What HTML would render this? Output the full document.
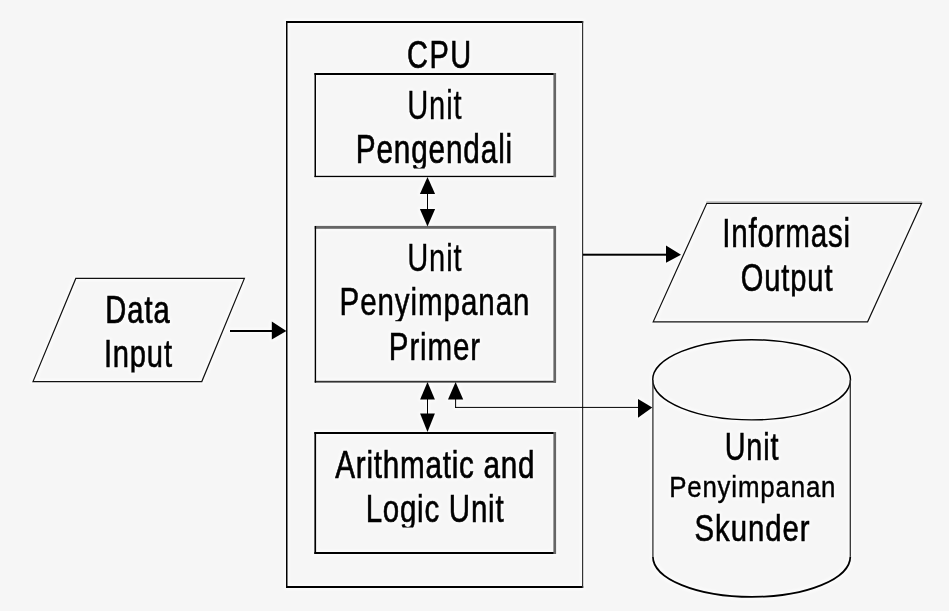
<!DOCTYPE html>
<html><head><meta charset="utf-8"><title>CPU diagram</title>
<style>
html,body{margin:0;padding:0;background:#f6f6f6;}
body{width:949px;height:611px;overflow:hidden;}
svg{display:block;}
text{font-family:"Liberation Sans",sans-serif;fill:#000;stroke:#000;vector-effect:non-scaling-stroke;}
</style></head><body>
<svg width="949" height="611" viewBox="0 0 949 611">
<defs><clipPath id="c0"><rect x="0" y="22.5" width="949" height="50.9"/></clipPath><clipPath id="c1"><rect x="0" y="74.0" width="949" height="50.9"/></clipPath><clipPath id="c2"><rect x="0" y="117.6" width="949" height="50.9"/></clipPath><clipPath id="c3"><rect x="0" y="226.4" width="949" height="50.9"/></clipPath><clipPath id="c4"><rect x="0" y="270.4" width="949" height="50.9"/></clipPath><clipPath id="c5"><rect x="0" y="315.0" width="949" height="50.9"/></clipPath><clipPath id="c6"><rect x="0" y="432.9" width="949" height="50.9"/></clipPath><clipPath id="c7"><rect x="0" y="476.5" width="949" height="50.9"/></clipPath><clipPath id="c8"><rect x="0" y="277.8" width="949" height="50.9"/></clipPath><clipPath id="c9"><rect x="0" y="321.7" width="949" height="50.9"/></clipPath><clipPath id="c10"><rect x="0" y="202.2" width="949" height="50.9"/></clipPath><clipPath id="c11"><rect x="0" y="245.6" width="949" height="50.9"/></clipPath><clipPath id="c12"><rect x="0" y="415.2" width="949" height="50.9"/></clipPath><clipPath id="c13"><rect x="0" y="495.6" width="949" height="50.9"/></clipPath><filter id="b" x="-2%" y="-2%" width="104%" height="104%" color-interpolation-filters="sRGB"><feMorphology in="SourceAlpha" operator="dilate" radius="1.6" result="d"/><feGaussianBlur in="d" stdDeviation="1.4" result="g"/><feFlood flood-color="#fff" flood-opacity="0.6"/><feComposite in2="g" operator="in" result="halo"/><feGaussianBlur in="SourceGraphic" stdDeviation="0.4" result="s"/><feMerge><feMergeNode in="halo"/><feMergeNode in="s"/></feMerge></filter></defs>
<rect width="949" height="611" fill="#f6f6f6"/>
<g filter="url(#b)">

<rect x="286" y="21" width="297.20" height="2.00" fill="#000"/>
<rect x="286" y="586" width="297.20" height="2.00" fill="#000"/>
<rect x="286" y="21" width="1.50" height="567.00" fill="#000"/>
<rect x="582" y="21" width="1.20" height="567.00" fill="#333"/>
<rect x="314.5" y="73" width="241.50" height="2.00" fill="#000"/>
<rect x="314.5" y="175.8" width="241.50" height="1.30" fill="#000"/>
<rect x="314.5" y="73" width="1.50" height="104.10" fill="#000"/>
<rect x="553.4" y="73" width="2.70" height="104.10" fill="#666"/>
<rect x="314.7" y="225.9" width="241.30" height="2.90" fill="#666"/>
<rect x="314.7" y="380.8" width="241.30" height="1.80" fill="#333"/>
<rect x="314.7" y="226" width="1.40" height="156.60" fill="#000"/>
<rect x="553.4" y="226" width="2.70" height="156.60" fill="#666"/>
<rect x="314.4" y="432" width="241.60" height="2.00" fill="#000"/>
<rect x="314.4" y="552" width="241.60" height="2.00" fill="#000"/>
<rect x="314.4" y="432" width="1.70" height="122.00" fill="#000"/>
<rect x="553.4" y="432" width="2.70" height="122.00" fill="#666"/>
<rect x="230" y="330" width="45.00" height="2.00" fill="#000"/>
<rect x="583" y="253.7" width="87.00" height="2.00" fill="#000"/>
<rect x="427" y="180" width="1.00" height="44.00" fill="#000"/>
<rect x="427" y="385" width="1.00" height="45.00" fill="#000"/>
<rect x="455.1" y="395" width="1.00" height="12.90" fill="#000"/>
<rect x="455.1" y="406.9" width="184.90" height="1.00" fill="#000"/>
<g fill="none" stroke="#111" stroke-width="1.2">
<polygon points="75.8,278.4 244.4,278.4 201.8,381.6 33,381.6"/>
<polygon points="706.8,203.3 921.6,203.3 867.6,321.8 653.2,321.8"/>
<path d="M706.5 202 H921.8" stroke="#999" stroke-width="1.2"/>
<ellipse cx="751.6" cy="379.8" rx="98.9" ry="40.1" stroke-width="1.4" stroke="#000"/>
<path d="M652.9 379.8 V556.7 M850.3 556.7 V379.8" stroke="#333" stroke-width="1.3"/>
<path d="M652.9 556.7 A98.7 40.2 0 0 0 850.3 556.7" stroke="#000" stroke-width="1.7"/>
</g>
<g fill="#000" stroke="none">
<polygon points="427.5,177 435.1,194 419.9,194"/>
<polygon points="427.5,226.5 435.1,209 419.9,209"/>
<polygon points="427.5,382 434.9,399.6 420.1,399.6"/>
<polygon points="427.5,432 434.9,413.6 420.1,413.6"/>
<polygon points="455.6,382 463.2,399.6 448,399.6"/>
<polygon points="652.3,407.6 638,399 638,417.8"/>
<polygon points="286.4,331 271.8,321.5 271.8,339.5"/>
<polygon points="681,254.7 666,245.6 666,262.8"/>
</g>

<g>
<g clip-path="url(#c0)"><text transform="translate(407.05 67.50) scale(0.7463 1)" font-size="38.80" letter-spacing="2.027" stroke-width="0.6">CPU</text></g>
<g clip-path="url(#c1)"><text transform="translate(407.19 119.00) scale(0.7105 1)" font-size="41.00" letter-spacing="1.217" stroke-width="0.3">Unit</text></g>
<g clip-path="url(#c2)"><text transform="translate(355.75 162.60) scale(0.7399 1)" font-size="40.20" letter-spacing="1.141" stroke-width="0.6">Pengendali</text></g>
<g clip-path="url(#c3)"><text transform="translate(407.19 271.40) scale(0.7586 1)" font-size="38.40" letter-spacing="1.140" stroke-width="0.3">Unit</text></g>
<g clip-path="url(#c4)"><text transform="translate(339.51 315.40) scale(0.7699 1)" font-size="38.40" letter-spacing="1.206" stroke-width="0.5">Penyimpanan</text></g>
<g clip-path="url(#c5)"><text transform="translate(388.81 360.00) scale(0.7729 1)" font-size="38.20" letter-spacing="1.145" stroke-width="0.5">Primer</text></g>
<g clip-path="url(#c6)"><text transform="translate(335.33 477.90) scale(0.7483 1)" font-size="39.60" letter-spacing="1.014" stroke-width="0.6">Arithmatic and</text></g>
<g clip-path="url(#c7)"><text transform="translate(365.64 521.50) scale(0.7452 1)" font-size="39.60" letter-spacing="1.009" stroke-width="0.55">Logic Unit</text></g>
<g clip-path="url(#c8)"><text transform="translate(105.23 322.80) scale(0.7552 1)" font-size="38.50" letter-spacing="1.369" stroke-width="0.65">Data</text></g>
<g clip-path="url(#c9)"><text transform="translate(103.88 366.70) scale(0.7480 1)" font-size="39.00" letter-spacing="1.090" stroke-width="0.55">Input</text></g>
<g clip-path="url(#c10)"><text transform="translate(722.34 247.20) scale(0.7339 1)" font-size="40.30" letter-spacing="1.048" stroke-width="0.55">Informasi</text></g>
<g clip-path="url(#c11)"><text transform="translate(740.69 290.60) scale(0.7555 1)" font-size="38.50" letter-spacing="1.195" stroke-width="0.55">Output</text></g>
<g clip-path="url(#c12)"><text transform="translate(724.75 460.20) scale(0.7338 1)" font-size="39.20" letter-spacing="1.164" stroke-width="0.55">Unit</text></g>
<text transform="translate(669.16 497.30) scale(0.8628 1)" font-size="30.00" letter-spacing="0.942" stroke-width="0.4">Penyimpanan</text>
<g clip-path="url(#c13)"><text transform="translate(694.56 540.60) scale(0.7927 1)" font-size="37.00" letter-spacing="1.190" stroke-width="0.55">Skunder</text></g>
</g>
</g>
</svg>
</body></html>
